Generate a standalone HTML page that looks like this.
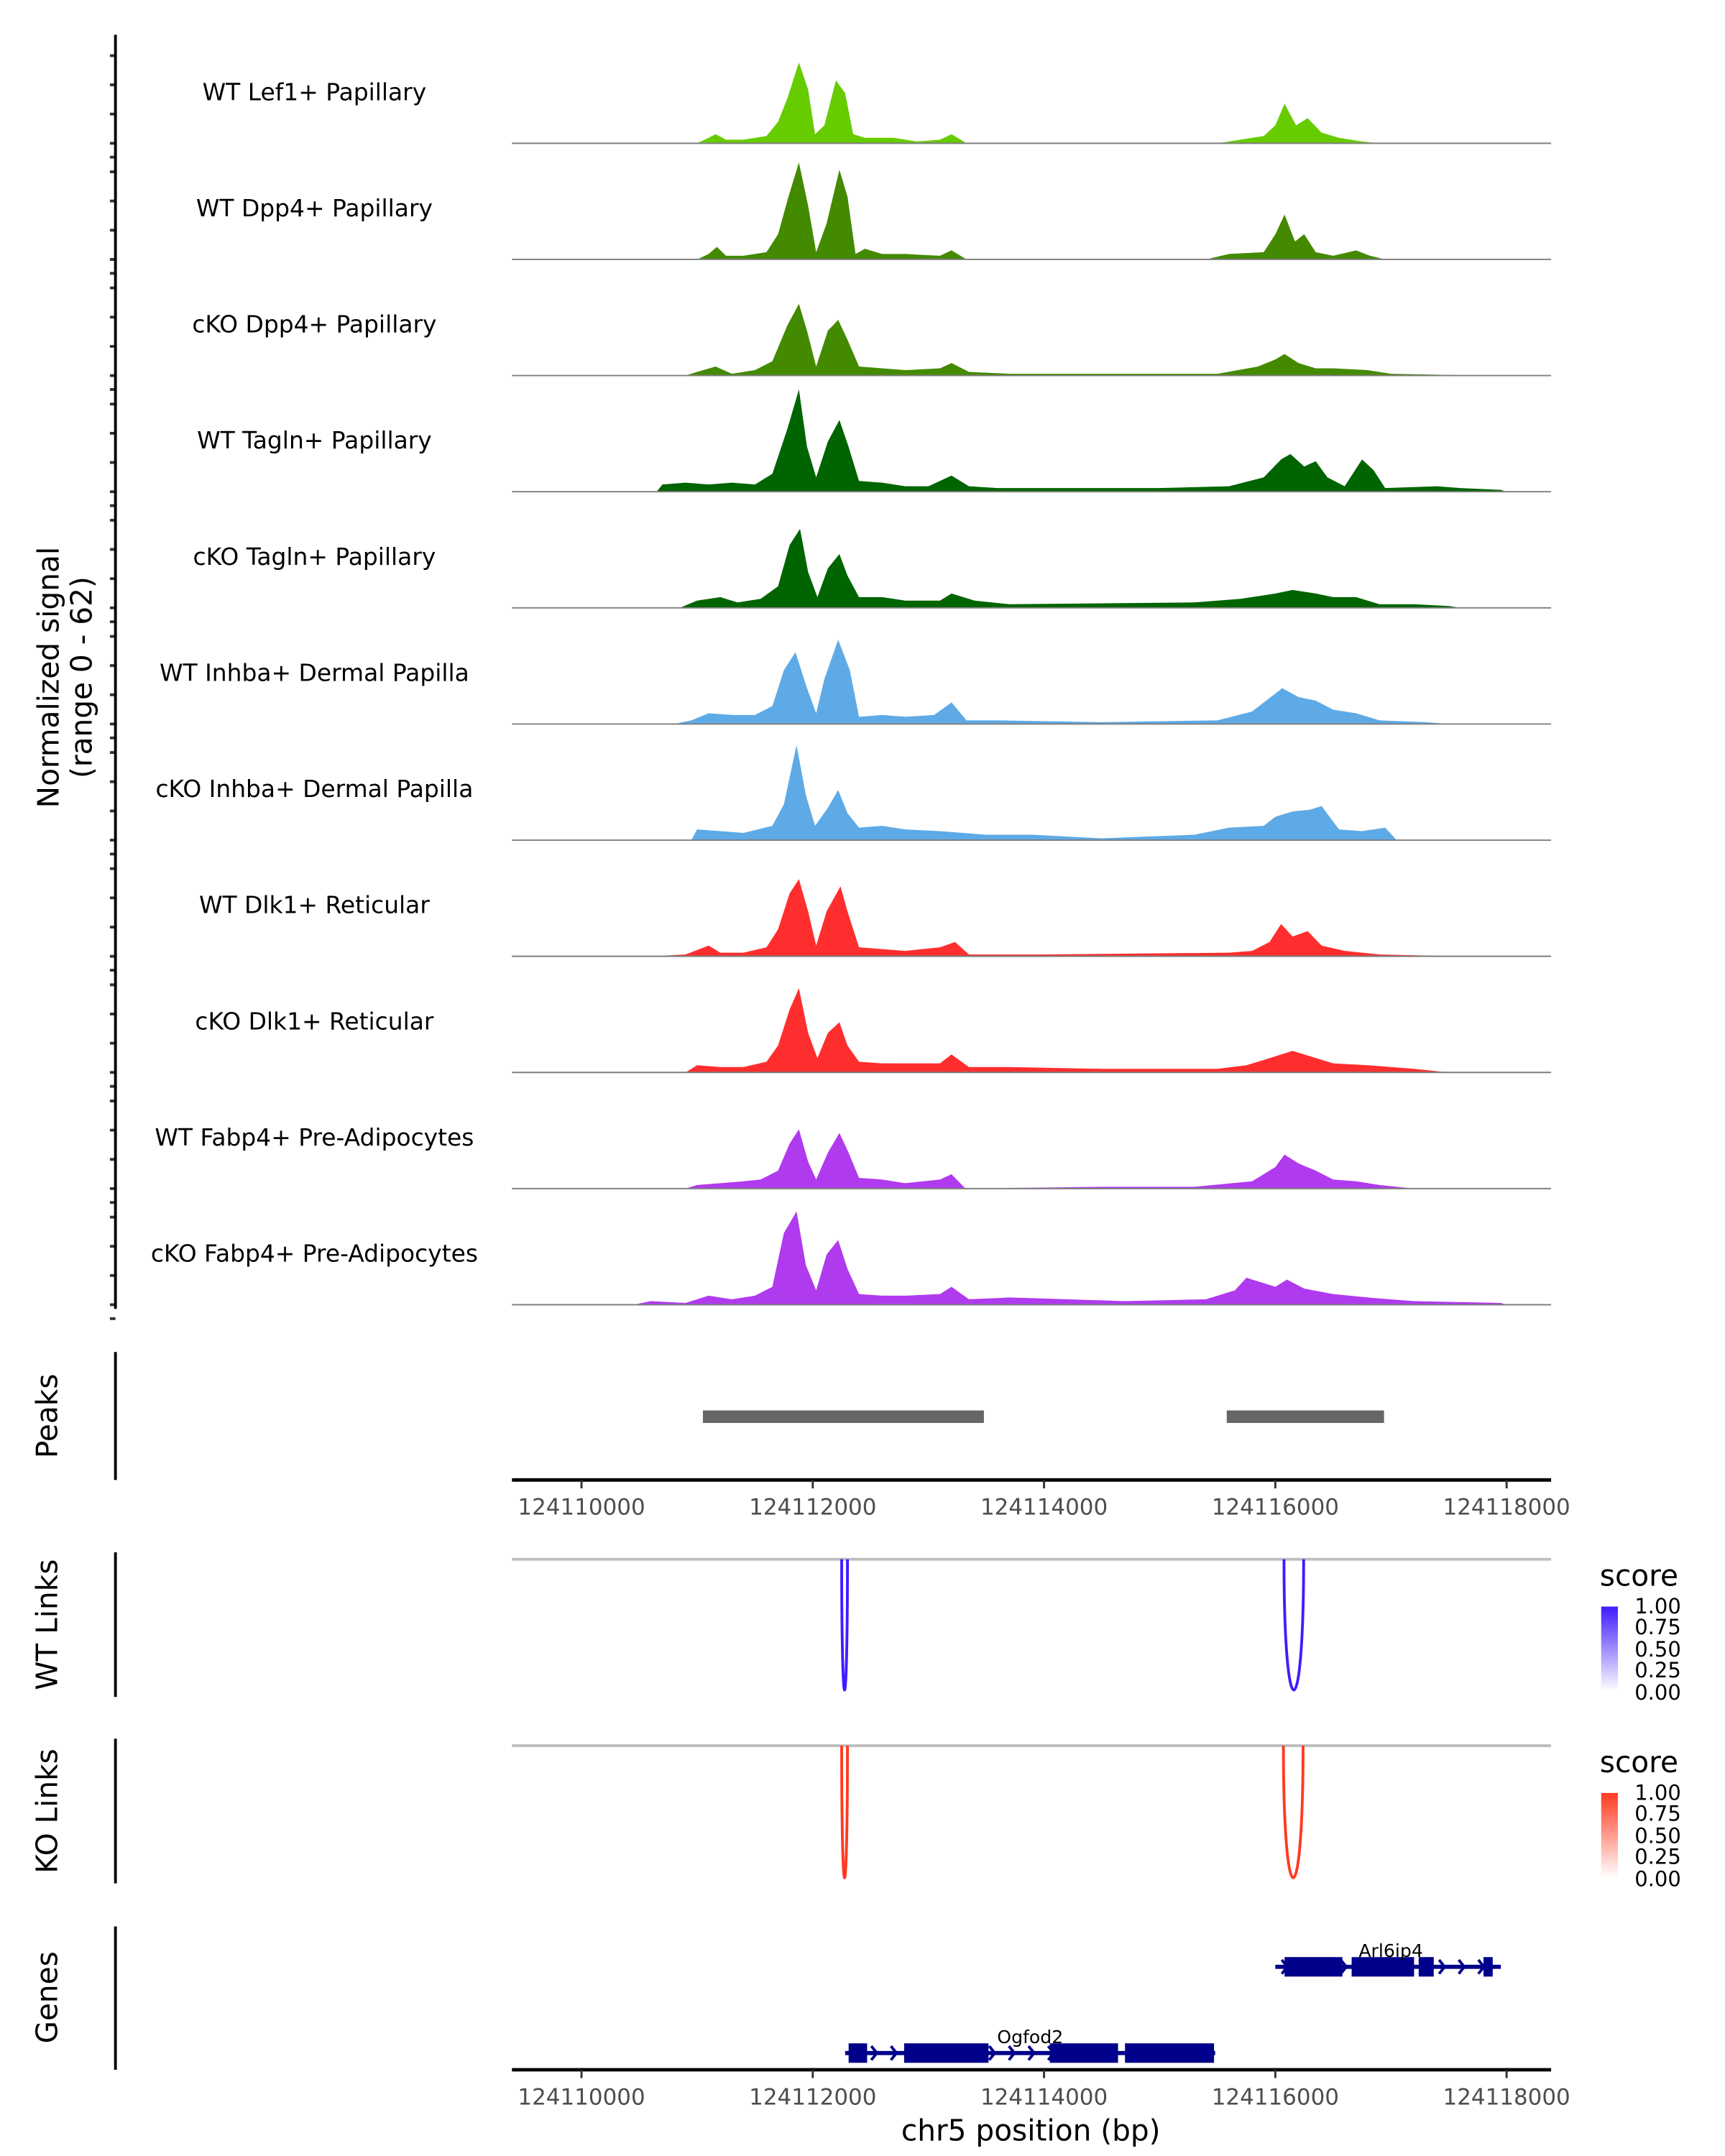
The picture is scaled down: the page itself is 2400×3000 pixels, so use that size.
<!DOCTYPE html>
<html><head><meta charset="utf-8"><style>
html,body{margin:0;padding:0;background:#fff;}
svg{display:block;font-family:"DejaVu Sans","Liberation Sans",sans-serif;}
</style></head><body>
<svg id="chart" width="2400" height="3000" viewBox="0 0 1240 1550" xmlns="http://www.w3.org/2000/svg">
<g id="tracks"></g>
<g id="static">
  <line x1="83" y1="25" x2="83" y2="941" stroke="#000" stroke-width="2"/>
  <text transform="translate(42,487) rotate(-90)" text-anchor="middle" font-size="21">Normalized signal</text>
  <text transform="translate(66,487) rotate(-90)" text-anchor="middle" font-size="21">(range 0 - 62)</text>
  <line x1="83" y1="972" x2="83" y2="1064" stroke="#000" stroke-width="2"/>
  <text transform="translate(41,1018) rotate(-90)" text-anchor="middle" font-size="21">Peaks</text>
  <line x1="83" y1="1116" x2="83" y2="1220" stroke="#000" stroke-width="2"/>
  <text transform="translate(41,1168) rotate(-90)" text-anchor="middle" font-size="21">WT Links</text>
  <line x1="83" y1="1250" x2="83" y2="1354" stroke="#000" stroke-width="2"/>
  <text transform="translate(41,1302) rotate(-90)" text-anchor="middle" font-size="21">KO Links</text>
  <line x1="83" y1="1385" x2="83" y2="1488" stroke="#000" stroke-width="2"/>
  <text transform="translate(41,1436) rotate(-90)" text-anchor="middle" font-size="21">Genes</text>
  <text x="741" y="1539" text-anchor="middle" font-size="21">chr5 position (bp)</text>
  <defs>
    <linearGradient id="gb" x1="0" y1="1" x2="0" y2="0"><stop offset="0" stop-color="#ffffff"/><stop offset="1" stop-color="#3f1cff"/></linearGradient>
    <linearGradient id="gr" x1="0" y1="1" x2="0" y2="0"><stop offset="0" stop-color="#ffffff"/><stop offset="1" stop-color="#ff3a20"/></linearGradient>
  </defs>
  <g>
    <text x="1150" y="1140" font-size="21">score</text>
    <rect x="1151" y="1155" width="12" height="61" fill="url(#gb)"/>
    <g font-size="15" fill="#000"><text x="1175" y="1160">1.00</text><text x="1175" y="1175">0.75</text><text x="1175" y="1191">0.50</text><text x="1175" y="1206">0.25</text><text x="1175" y="1222">0.00</text></g>
  </g>
  <g>
    <text x="1150" y="1274" font-size="21">score</text>
    <rect x="1151" y="1289" width="12" height="61" fill="url(#gr)"/>
    <g font-size="15" fill="#000"><text x="1175" y="1294">1.00</text><text x="1175" y="1309">0.75</text><text x="1175" y="1325">0.50</text><text x="1175" y="1340">0.25</text><text x="1175" y="1356">0.00</text></g>
  </g>
</g>
<g id="dyn"></g>
</svg>
<script>
const BASE = 124110000;
const trackNames = ["WT Lef1+ Papillary","WT Dpp4+ Papillary","cKO Dpp4+ Papillary","WT Tagln+ Papillary","cKO Tagln+ Papillary","WT Inhba+ Dermal Papilla","cKO Inhba+ Dermal Papilla","WT Dlk1+ Reticular","cKO Dlk1+ Reticular","WT Fabp4+ Pre-Adipocytes","cKO Fabp4+ Pre-Adipocytes"];
const trackColors = ["#66cc00","#448a00","#448a00","#006400","#006400","#5eaae6","#5eaae6","#ff2e2e","#ff2e2e","#b03aee","#b03aee"];
const sigLef1WT = [[1000,0],[1100,3],[1160,5],[1250,2],[1400,2],[1600,4],[1700,12],[1780,25],[1880,45],[1960,30],[2020,5],[2100,10],[2200,35],[2280,28],[2350,5],[2450,3],[2700,3],[2900,1],[3100,2],[3200,5],[3330,0],[5500,0],[5900,4],[6000,10],[6080,22],[6180,10],[6280,14],[6400,6],[6550,3],[6750,1],[6900,0]];
const sigDpp4WT = [[1000,0],[1100,3],[1170,7],[1250,2],[1400,2],[1600,4],[1700,14],[1790,35],[1880,54],[1960,30],[2030,4],[2120,20],[2230,50],[2300,35],[2370,3],[2450,6],[2600,3],[2800,3],[3100,2],[3200,5],[3330,0],[5400,0],[5600,3],[5900,4],[6000,14],[6080,25],[6170,10],[6250,14],[6350,4],[6500,2],[6700,5],[6820,2],[6950,0]];
const sigDpp4KO = [[900,0],[1000,2],[1160,5],[1300,1],[1500,3],[1650,8],[1780,28],[1880,40],[1950,25],[2030,5],[2130,25],[2220,31],[2300,20],[2400,5],[2600,4],[2800,3],[3100,4],[3200,7],[3350,2],[3700,1],[5500,1],[5850,5],[6000,9],[6080,12],[6200,7],[6350,4],[6500,4],[6800,3],[7000,1],[7800,0]];
const sigTaglnWT = [[650,0],[700,4],[900,5],[1100,4],[1300,5],[1500,4],[1650,10],[1780,35],[1880,57],[1950,25],[2030,8],[2130,28],[2230,40],[2310,25],[2400,6],[2600,5],[2800,3],[3000,3],[3200,9],[3350,3],[3600,2],[4000,2],[5000,2],[5600,3],[5900,8],[6050,18],[6130,21],[6250,14],[6350,17],[6450,8],[6600,3],[6750,18],[6850,12],[6950,2],[7400,3],[7600,2],[7950,1],[8000,0]];
const sigTaglnKO = [[850,0],[1000,4],[1200,6],[1350,3],[1550,5],[1700,12],[1800,35],[1890,44],[1960,20],[2040,6],[2130,22],[2230,30],[2300,18],[2400,6],[2600,6],[2800,4],[3100,4],[3200,8],[3400,4],[3700,2],[5300,3],[5700,5],[6000,8],[6150,10],[6350,8],[6500,6],[6700,6],[6900,2],[7200,2],[7500,1],[7600,0]];
const sigInhbaWT = [[800,0],[950,2],[1100,6],[1300,5],[1500,5],[1650,10],[1750,30],[1850,40],[1950,20],[2030,6],[2100,25],[2220,47],[2320,30],[2400,4],[2600,5],[2800,4],[3050,5],[3200,12],[3330,2],[3600,2],[4500,1],[5500,2],[5800,7],[6000,17],[6060,20],[6200,15],[6350,13],[6500,8],[6700,6],[6900,2],[7300,1],[7500,0]];
const sigInhbaKO = [[950,0],[1000,6],[1200,5],[1400,4],[1650,8],[1750,20],[1860,53],[1940,25],[2020,8],[2130,18],[2220,28],[2300,15],[2400,7],[2600,8],[2800,6],[3100,5],[3500,3],[3900,3],[4500,1],[5300,3],[5600,7],[5900,8],[6000,13],[6150,16],[6300,17],[6400,19],[6550,6],[6750,5],[6950,7],[7050,0]];
const sigDlk1WT = [[600,0],[900,1],[1100,6],[1200,2],[1400,2],[1600,5],[1700,15],[1800,35],[1880,43],[1960,25],[2030,6],[2120,25],[2240,39],[2300,25],[2400,5],[2600,4],[2800,3],[3100,5],[3230,8],[3350,1],[4000,1],[5600,2],[5800,3],[5950,8],[6050,18],[6150,11],[6280,14],[6400,6],[6600,3],[6900,1],[7600,0]];
const sigDlk1KO = [[900,0],[1000,4],[1200,3],[1400,3],[1600,6],[1700,15],[1800,35],[1880,47],[1960,22],[2040,8],[2130,22],[2230,28],[2300,15],[2400,6],[2600,5],[2800,5],[3100,5],[3200,10],[3350,3],[3700,3],[4500,2],[5500,2],[5750,4],[5950,8],[6150,12],[6300,9],[6500,5],[6800,4],[7200,2],[7500,0]];
const sigFabp4WT = [[900,0],[1000,2],[1200,3],[1400,4],[1550,5],[1700,10],[1800,25],[1880,33],[1960,15],[2030,5],[2130,20],[2230,31],[2310,20],[2400,6],[2600,5],[2800,3],[3100,5],[3200,8],[3320,0],[4500,1],[5300,1],[5800,4],[6000,12],[6080,19],[6200,14],[6350,10],[6500,5],[6700,4],[6900,2],[7200,0]];
const sigFabp4KO = [[450,0],[600,2],[900,1],[1100,5],[1300,3],[1500,5],[1650,10],[1750,40],[1860,52],[1940,22],[2030,8],[2120,28],[2220,36],[2300,20],[2400,6],[2600,5],[2800,5],[3100,6],[3200,10],[3350,3],[3700,4],[4200,3],[4700,2],[5400,3],[5650,8],[5750,15],[6000,10],[6100,14],[6250,9],[6500,6],[6800,4],[7200,2],[7950,1],[8000,0]];
const signals = [sigLef1WT,sigDpp4WT,sigDpp4KO,sigTaglnWT,sigTaglnKO,sigInhbaWT,sigInhbaKO,sigDlk1WT,sigDlk1KO,sigFabp4WT,sigFabp4KO];
const peakRanges = [[1050,3480],[5580,6940]];
const wtLinks = [[2250,2300,1.0],[6075,6245,1.0]];
const koLinks = [[2250,2300,1.0],[6070,6240,1.0]];
const xTicks = [124110000,124112000,124114000,124116000,124118000];
const geneNames = ["Arl6ip4","Ogfod2"];
const geneSpans = [[6000,7950],[2280,5480]];
const geneExons = [[[6080,6580],[6660,7200],[7240,7370],[7800,7880]],[[2310,2470],[2790,3520],[4050,4640],[4700,5470]]];

const NS = "http://www.w3.org/2000/svg";
const dyn = document.getElementById('dyn');
const tracksG = document.getElementById('tracks');
const X0 = 418, PXBP = 665/8000;
function xs(off){ return X0 + off*PXBP; }
function xAbs(bp){ return xs(bp-BASE); }
const YMAX = 62, TRACKH = 80;
function ys(v, base){ return base - v*TRACKH/YMAX; }
function mk(tag, attrs, parent){ const e=document.createElementNS(NS,tag); for(const k in attrs) e.setAttribute(k,attrs[k]); (parent||dyn).appendChild(e); return e; }

const base0 = 103, step = 83.5;
signals.forEach((pts,i)=>{
  const b = base0 + i*step;
  const g = mk('g',{},tracksG);
  
  
  let d = 'M'+xs(pts[0][0])+' '+b;
  pts.forEach(p=>{ d += ' L'+xs(p[0]).toFixed(1)+' '+ys(p[1],b).toFixed(1); });
  d += ' L'+xs(pts[pts.length-1][0])+' '+b+' Z';
  const area = mk('path',{d:d, fill:trackColors[i]}, g);
  
  
  const bl = mk('line',{x1:368,x2:1115,y1:b,y2:b,stroke:'#7f7f7f','stroke-width':1}, g);
  
  
  const t = mk('text',{x:226,y:b-31,'text-anchor':'middle','font-size':17}, g);
  t.textContent = trackNames[i];
  
  
  [0,21,42,63].forEach(o=>{
    const tk = mk('line',{x1:79,x2:83,y1:b-o,y2:b-o,stroke:'#333','stroke-width':2}, g);
    
    
  });
  const tk2 = mk('line',{x1:79,x2:83,y1:b+10,y2:b+10,stroke:'#333','stroke-width':2}, g);
  
  
});

peakRanges.forEach(r=>{
  const p = mk('rect',{x:xs(r[0]),y:1014,width:xs(r[1])-xs(r[0]),height:9,fill:'#666666'});
  
  
});

function axis(y){
  const l = mk('line',{x1:368,x2:1115,y1:y,y2:y,stroke:'#000','stroke-width':2.5});
  
  
  xTicks.forEach(t=>{
    const x = xAbs(t);
    const tk = mk('line',{x1:x,x2:x,y1:y,y2:y+6,stroke:'#333','stroke-width':1.5});
    
    
    const tl = mk('text',{x:x,y:y+25,'text-anchor':'middle','font-size':16,fill:'#4d4d4d'});
    tl.textContent = t;
    
    
  });
}
axis(1064); axis(1488);

function links(arr, y0, depth, color, nm){
  const bl = mk('line',{x1:368,x2:1115,y1:y0,y2:y0,stroke:'#bdbdbd','stroke-width':2});
  
  
  arr.forEach(a=>{
    const x1 = xs(a[0]), x2 = xs(a[1]);
    const cy = y0 + depth*a[2]/0.75;
    const p = mk('path',{d:`M${x1} ${y0} C${x1} ${cy} ${x2} ${cy} ${x2} ${y0}`,fill:'none',stroke:color,'stroke-width':2});
    
    
  });
}
links(wtLinks, 1121, 94, '#3f1cff', 'wt-link');
links(koLinks, 1255, 95, '#ff3a20', 'ko-link');

const geneY = [1414, 1476];
geneNames.forEach((n,i)=>{
  const y = geneY[i];
  const s = geneSpans[i];
  const ln = mk('line',{x1:xs(s[0]),x2:xs(s[1]),y1:y,y2:y,stroke:'#00008b','stroke-width':3});
  
  
  for(let k=s[0]+80;k<s[1];k+=170){
    const x = xs(k);
    const c = mk('path',{d:`M${x-2} ${y-5} L${x+2} ${y} L${x-2} ${y+5}`,fill:'none',stroke:'#00008b','stroke-width':2});
    
    
  }
  geneExons[i].forEach(e=>{
    const r = mk('rect',{x:xs(e[0]),y:y-7,width:xs(e[1])-xs(e[0]),height:14,fill:'#00008b'});
    
    
  });
  const t = mk('text',{x:xs((s[0]+s[1])/2)+(i===0?2:0),y:y-7,'text-anchor':'middle','font-size':13});
  t.textContent = n;
  
  
});
</script>
</body></html>
